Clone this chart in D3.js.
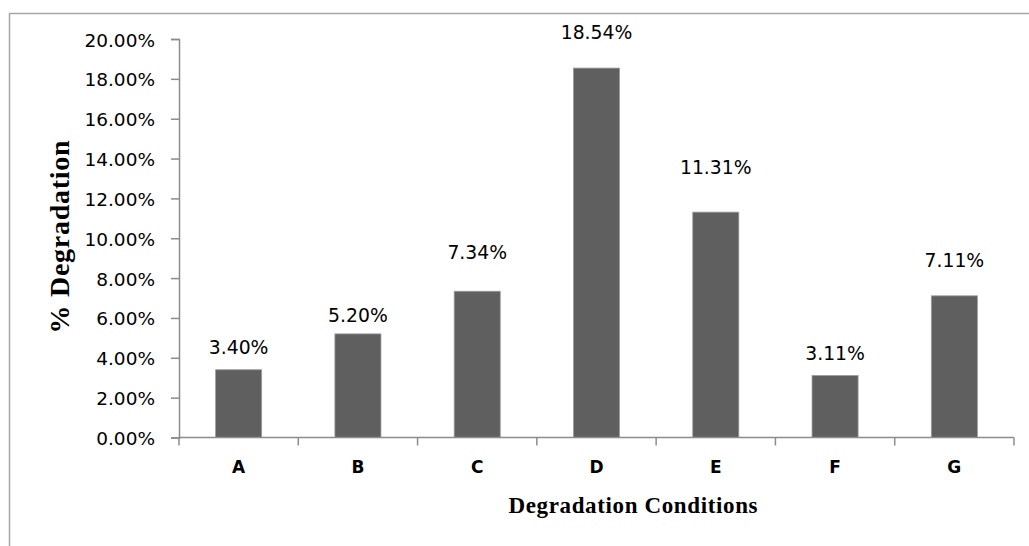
<!DOCTYPE html>
<html>
<head>
<meta charset="utf-8">
<script src="https://cdn.jsdelivr.net/npm/d3@7"></script>
<style>
  html, body { margin: 0; padding: 0; background: #fff; }
  svg { display: block; }
</style>
</head>
<body>
<svg id="chart" width="1029" height="546"></svg>
<script>
// Degradation percentage for each condition
const conditions = ["A", "B", "C", "D", "E", "F", "G"];
const degradation = [3.40, 5.20, 7.34, 18.54, 11.31, 3.11, 7.11];
const yTicks = [0, 2, 4, 6, 8, 10, 12, 14, 16, 18, 20];

const svg = d3.select("#chart");
const W = 1029, H = 546;
const m = { left: 179, right: 15, top: 39, bottom: 108.5 };

// outer chart frame (runs off the right and bottom edges)
svg.append("rect")
  .attr("x", 9.5).attr("y", 13.5)
  .attr("width", W + 20).attr("height", H + 20)
  .attr("fill", "none").attr("stroke", "#a6a6a6").attr("stroke-width", 1.5);

const x = d3.scaleBand()
  .domain(conditions)
  .range([m.left, W - m.right])
  .paddingInner(0.614)
  .paddingOuter(0.307);

const y = d3.scaleLinear()
  .domain([0, 20])
  .range([H - m.bottom, m.top]);

const axisColor = "#8c8c8c";

// y axis
const yAxis = svg.append("g")
  .attr("transform", `translate(${m.left},0)`)
  .call(d3.axisLeft(y).tickValues(yTicks).tickSize(8).tickPadding(16)
    .tickFormat(d => d3.format(".2f")(d) + "%"));
yAxis.select(".domain").attr("stroke", axisColor).attr("stroke-width", 1.5);
yAxis.selectAll(".tick line").attr("stroke", axisColor).attr("stroke-width", 1.5);
yAxis.selectAll(".tick text")
  .attr("fill", "#000")
  .style("font-family", "'DejaVu Sans', sans-serif")
  .style("font-size", "18.5px")
  .attr("dy", "0.38em");

// bars
svg.append("g").selectAll("rect")
  .data(degradation)
  .join("rect")
  .attr("x", (d, i) => x(conditions[i]))
  .attr("y", d => y(d))
  .attr("width", x.bandwidth())
  .attr("height", d => y(0) - y(d))
  .attr("fill", "#5f5f5f")
  .attr("stroke", "#9a9a9a")
  .attr("stroke-width", 0.8);

// x axis with ticks at category boundaries
const x0 = m.left, x1 = W - m.right, yb = y(0);
svg.append("line")
  .attr("x1", x0).attr("x2", x1).attr("y1", yb).attr("y2", yb)
  .attr("stroke", axisColor).attr("stroke-width", 1.5);
const step = x.step();
const bounds = d3.range(conditions.length + 1).map(i => x0 + i * step);
svg.append("g").selectAll("line")
  .data(bounds)
  .join("line")
  .attr("x1", d => d).attr("x2", d => d)
  .attr("y1", yb).attr("y2", yb + 8)
  .attr("stroke", axisColor).attr("stroke-width", 1.5);

// category labels
svg.append("g").selectAll("text")
  .data(conditions)
  .join("text")
  .attr("x", d => x(d) + x.bandwidth() / 2)
  .attr("y", 473)
  .attr("text-anchor", "middle")
  .style("font-family", "'DejaVu Sans', sans-serif")
  .style("font-weight", "bold")
  .style("font-size", "17px")
  .text(d => d);

// value labels above bars; each label was nudged by hand above its bar
const labelLift = [16, 12, 32, 29, 38, 16, 29];
svg.append("g").selectAll("text")
  .data(degradation)
  .join("text")
  .attr("x", (d, i) => x(conditions[i]) + x.bandwidth() / 2)
  .attr("y", (d, i) => y(d) - labelLift[i])
  .attr("text-anchor", "middle")
  .style("font-family", "'DejaVu Sans', sans-serif")
  .style("font-size", "18.8px")
  .text(d => d3.format(".2f")(d) + "%");

// axis titles
svg.append("text")
  .attr("x", 633).attr("y", 513)
  .attr("text-anchor", "middle")
  .style("font-family", "'Liberation Serif', 'Times New Roman', serif")
  .style("font-weight", "bold")
  .style("font-size", "23px")
  .attr("textLength", 249)
  .text("Degradation Conditions");

svg.append("text")
  .attr("transform", "translate(69,237) rotate(-90)")
  .attr("text-anchor", "middle")
  .style("font-family", "'Liberation Serif', 'Times New Roman', serif")
  .style("font-weight", "bold")
  .style("font-size", "28px")
  .attr("textLength", 193)
  .text("% Degradation");
</script>
</body>
</html>
